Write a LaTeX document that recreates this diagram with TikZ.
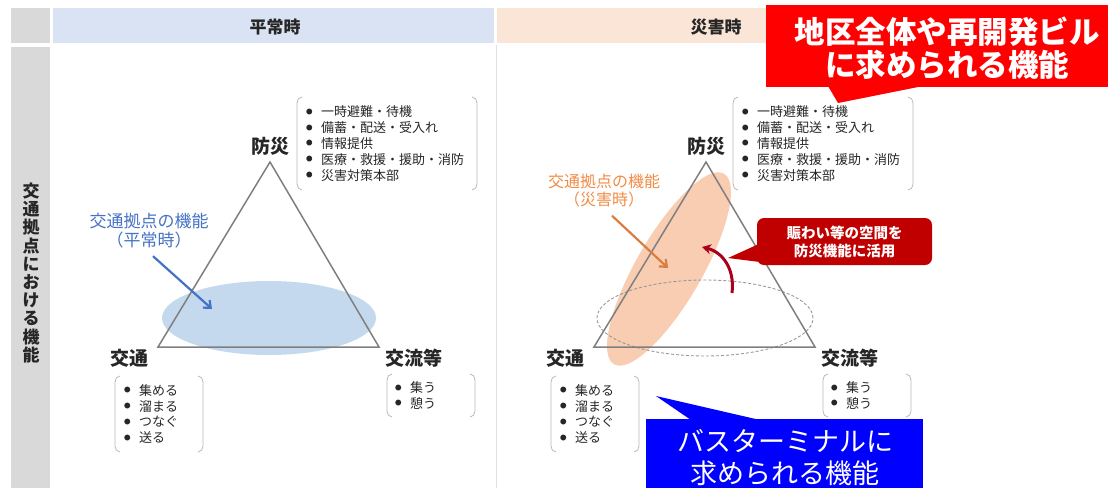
\documentclass[tikz,border=0pt]{standalone}
\usepackage{fontspec}
\setmainfont{Noto Sans CJK JP}
\usetikzlibrary{arrows.meta,positioning,calc}
\definecolor{headblue}{RGB}{218,227,243}
\definecolor{headpeach}{RGB}{251,229,214}
\definecolor{colgray}{RGB}{217,217,217}
\definecolor{trigray}{RGB}{127,127,127}
\definecolor{fnblue}{RGB}{68,114,196}
\definecolor{fnorange}{RGB}{240,140,70}
\definecolor{ellblue}{RGB}{196,217,238}
\definecolor{ellpeach}{RGB}{248,205,178}
\definecolor{deepred}{RGB}{192,0,0}
\definecolor{arrowred}{RGB}{170,0,30}
\definecolor{callred}{RGB}{255,0,0}
\definecolor{callblue}{RGB}{0,0,255}

\newcommand{\itm}[1]{\makebox[15pt][l]{\raisebox{2.5pt}{\scalebox{0.5}{●}}}#1}
\newcommand{\bousailist}{\itm{一時避難・待機}\\\itm{備蓄・配送・受入れ}\\\itm{情報提供}\\\itm{医療・救援・援助・消防}\\\itm{災害対策本部}}
\newcommand{\koutsulist}{\itm{集める}\\\itm{溜まる}\\\itm{つなぐ}\\\itm{送る}}
\newcommand{\kouryulist}{\itm{集う}\\\itm{憩う}}
\newcommand{\listbracket}[1]{%
  \draw[brk] ([xshift=5pt]#1.north west) to[out=180,in=90] ([yshift=-6pt]#1.north west)
    -- ([yshift=6pt]#1.south west) to[out=-90,in=180] ([xshift=5pt]#1.south west);
  \draw[brk] ([xshift=-5pt]#1.north east) to[out=0,in=90] ([yshift=-6pt]#1.north east)
    -- ([yshift=6pt]#1.south east) to[out=-90,in=0] ([xshift=-5pt]#1.south east);}

\begin{document}
\begin{tikzpicture}[
    x=1pt, y=-1pt,
    hdr/.style={font=\bfseries\fontsize{17}{20}\selectfont, text=black!85, inner sep=0pt},
    corner/.style={font=\bfseries\fontsize{19}{22}\selectfont, text=black!85, inner sep=0pt},
    listbox/.style={inner ysep=0pt, outer sep=0pt, align=left, text=black!85,
                    font=\fontsize{13}{15.8}\selectfont},
    brk/.style={draw=gray!55, line width=0.8pt},
    trline/.style={draw=trigray, line width=1.5pt},
    fnarrow/.style={line width=2.2pt, -{Straight Barb[length=6pt,width=10pt]}},
    calltext/.style={text=white, align=center, inner sep=0pt}
]
\useasboundingbox (0,0) rectangle (1108,488);

% Table frame
\fill[colgray] (11,8) rectangle (50,43);
\fill[colgray] (11,47) rectangle (50,488);
\fill[headblue] (53,8) rectangle (494,43);
\fill[headpeach] (497,8) rectangle (1108,43);
\draw[gray!25, line width=0.8pt] (496,45) -- (496,488);
\node[hdr] (normal) at (275,27) {平常時};
\node[hdr] (disaster) at (716,27) {災害時};
\node[font=\bfseries\fontsize{17}{18.2}\selectfont, text=black!85, align=center, inner sep=0pt]
    (side) at (31,273) {交\\通\\拠\\点\\に\\お\\け\\る\\機\\能};

% Function areas
\fill[ellblue] (269,318) ellipse [x radius=107pt, y radius=37pt];
\fill[ellpeach, rotate around={60:(669,269)}] (669,269) ellipse [x radius=110pt, y radius=33pt];
\draw[trigray!80, line width=0.9pt, dash pattern=on 3pt off 2pt] (705,318) ellipse [x radius=108pt, y radius=38pt];

% Triangles and lists
\foreach \dx/\p in {0/L,436/R}{
  \coordinate (top\p) at (270+\dx,162);
  \coordinate (left\p) at (158+\dx,347);
  \coordinate (right\p) at (379+\dx,347);
  \draw[trline] (top\p) -- (left\p) -- (right\p) -- cycle;
  \node[corner, above=6pt of top\p] (bousai\p) {防災};
  \node[corner, below left=2pt and 9pt of left\p] (koutsu\p) {交通};
  \node[corner, below right=2pt and 6pt of right\p] (kouryu\p) {交流等};
  \node[listbox, text width=162pt, inner xsep=9pt, minimum height=93pt] (bousaiList\p) at (387+\dx,143.5) {\bousailist};
  \node[listbox, text width=70pt, inner xsep=9pt, minimum height=76pt] (koutsuList\p) at (159+\dx,414) {\koutsulist};
  \node[listbox, text width=72pt, inner xsep=8pt, minimum height=43pt] (kouryuList\p) at (431+\dx,395.5) {\kouryulist};
  \listbracket{bousaiList\p}
  \listbracket{koutsuList\p}
  \listbracket{kouryuList\p}
}

% Labels of the function areas
\node[font=\fontsize{17}{19}\selectfont, text=fnblue, align=center, inner sep=0pt] (funcL) at (149,230.5) {交通拠点の機能\\（平常時）};
\coordinate (funcLtip) at (212,309);
\draw[fnarrow, fnblue] ([xshift=4pt,yshift=-8pt]funcL.south) -- (funcLtip);
\node[font=\fontsize{16}{18}\selectfont, text=fnorange, align=center, inner sep=0pt] (funcR) at (604,191) {交通拠点の機能\\（災害時）};
\coordinate (funcRtip) at (668,268);
\draw[fnarrow, fnorange!90!black] ([xshift=8pt,yshift=-8pt]funcR.south) -- (funcRtip);

% Reuse of the space
\node[fill=deepred, rounded corners=7pt, minimum width=175pt, minimum height=47pt, text=white,
      font=\bfseries\fontsize{14.5}{18}\selectfont, align=center, inner sep=0pt] (reuse) at (844.5,241.5) {賑わい等の空間を\\防災機能に活用};
\coordinate (reuseTip) at (728,258);
\fill[deepred] ([xshift=2pt,yshift=-2.5pt]reuse.west) -- (reuseTip) -- ([xshift=3pt,yshift=-20.5pt]reuse.west) -- cycle;
\coordinate (liftS) at (732,293);
\coordinate (liftE) at (702,247);
\draw[arrowred, line width=3pt, -{Stealth[length=9pt,width=10pt]}] (liftS) .. controls (735,268) and (722,252) .. (liftE);

% Callouts
\fill[callred] (766,5) rectangle (1108,87);
\fill[callred] (828,86) -- (838,103) -- (923,86) -- cycle;
\node[calltext, font=\bfseries\fontsize{30.5}{33}\selectfont] (areaCall) at (947,48.5) {地区全体や再開発ビル\\に求められる機能};
\fill[callblue] (646,419) rectangle (923,488);
\fill[callblue] (656,396) -- (691,420) -- (760,420) -- cycle;
\node[calltext, font=\fontsize{27}{32}\selectfont] (busCall) at (785,458) {バスターミナルに\\求められる機能};
\end{tikzpicture}
\end{document}
